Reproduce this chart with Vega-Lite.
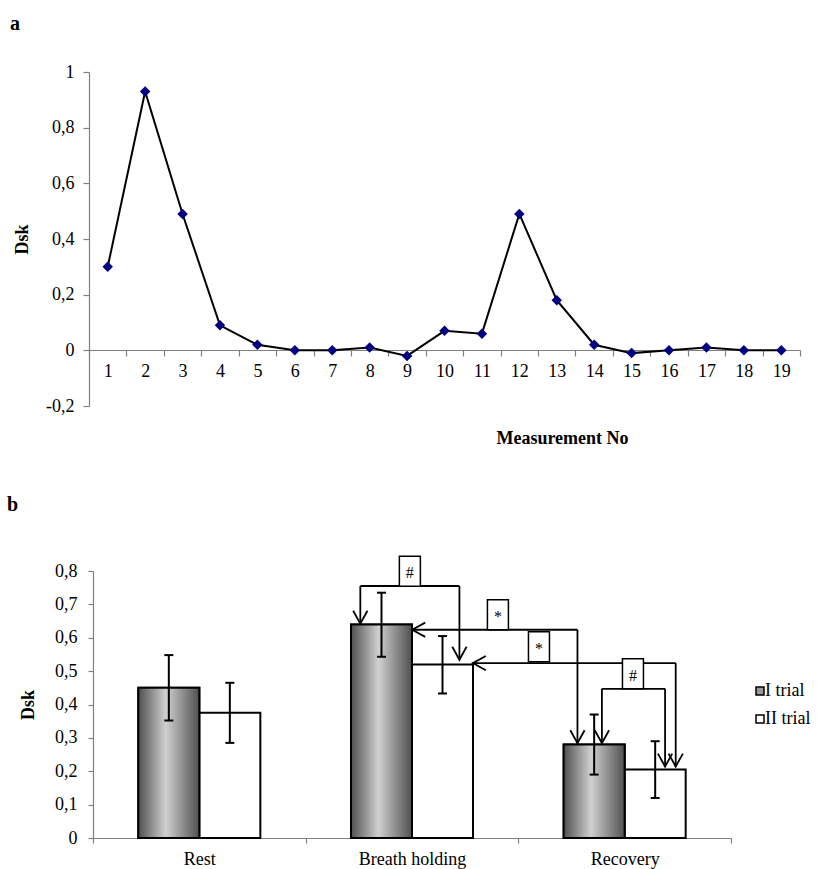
{
  "$schema": "https://vega.github.io/schema/vega-lite/v6.json",
  "padding": {"left": 7, "top": 14, "right": 5, "bottom": 5},
  "spacing": 48,
  "config": {
    "font": "Liberation Serif",
    "view": {"stroke": null},
    "axis": {
      "labelFont": "Liberation Serif", "titleFont": "Liberation Serif",
      "labelColor": "black", "titleColor": "black",
      "domainColor": "#808080", "tickColor": "#808080",
      "domainWidth": 1.2, "tickWidth": 1.2, "labelOverlap": false,
      "grid": false, "labelFontSize": 18, "titleFontSize": 18, "titleFontWeight": "bold"
    },
    "title": {"font": "Liberation Serif", "fontSize": 20, "fontWeight": "bold", "anchor": "start", "frame": "group", "color": "black", "baseline": "alphabetic"}
  },
  "vconcat": [
    {
      "title": {"text": "a", "dx": -79, "offset": 29},
      "width": 711,
      "height": 334,
      "data": {"values": [
        {"n": 1, "dsk": 0.30}, {"n": 2, "dsk": 0.93}, {"n": 3, "dsk": 0.49}, {"n": 4, "dsk": 0.09},
        {"n": 5, "dsk": 0.02}, {"n": 6, "dsk": 0.0}, {"n": 7, "dsk": 0.0}, {"n": 8, "dsk": 0.01},
        {"n": 9, "dsk": -0.02}, {"n": 10, "dsk": 0.07}, {"n": 11, "dsk": 0.06}, {"n": 12, "dsk": 0.49},
        {"n": 13, "dsk": 0.18}, {"n": 14, "dsk": 0.02}, {"n": 15, "dsk": -0.01}, {"n": 16, "dsk": 0.0},
        {"n": 17, "dsk": 0.01}, {"n": 18, "dsk": 0.0}, {"n": 19, "dsk": 0.0}
      ]},
      "encoding": {
        "x": {
          "field": "n", "type": "ordinal",
          "scale": {"type": "band", "paddingInner": 0, "paddingOuter": 0},
          "axis": {"labelAngle": 0, "offset": -56, "tickSize": 6, "tickBand": "extent", "labelPadding": 6,
                   "title": "Measurement No", "titleX": 473, "titleY": 88, "titleBaseline": "middle"}
        },
        "y": {
          "field": "dsk", "type": "quantitative",
          "scale": {"domain": [-0.2, 1], "nice": false, "zero": false},
          "axis": {"values": [-0.2, 0, 0.2, 0.4, 0.6, 0.8, 1],
                   "labelExpr": "replace(replace(format(datum.value, '.1~f'), '.', ','), '\u2212', '-')",
                   "tickSize": 6, "labelPadding": 9, "title": "Dsk", "titlePadding": 14}
        }
      },
      "layer": [
        {"mark": {"type": "line", "color": "black", "strokeWidth": 2}},
        {"mark": {"type": "point", "shape": "diamond", "filled": true, "color": "#000080", "size": 110, "opacity": 1}}
      ]
    },
    {
      "title": {"text": "b", "dx": -82, "offset": 38},
      "width": 642,
      "height": 267,
      "resolve": {"scale": {"x": "independent"}},
      "layer": [
        {
          "data": {"values": [
            {"phase": "Rest", "trial": "I trial", "value": 0.45, "lo": 0.352, "hi": 0.548},
            {"phase": "Rest", "trial": "II trial", "value": 0.375, "lo": 0.285, "hi": 0.465},
            {"phase": "Breath holding", "trial": "I trial", "value": 0.64, "lo": 0.543, "hi": 0.735},
            {"phase": "Breath holding", "trial": "II trial", "value": 0.52, "lo": 0.433, "hi": 0.605},
            {"phase": "Recovery", "trial": "I trial", "value": 0.28, "lo": 0.19, "hi": 0.37},
            {"phase": "Recovery", "trial": "II trial", "value": 0.205, "lo": 0.12, "hi": 0.29}
          ]},
          "encoding": {
            "x": {
              "field": "phase", "type": "nominal",
              "scale": {"domain": ["Rest", "Breath holding", "Recovery"], "paddingInner": 0, "paddingOuter": 0, "range": [4, 642]},
              "axis": {"labelAngle": 0, "tickSize": 5, "tickBand": "extent", "labelPadding": 7, "title": null}
            },
            "xOffset": {"field": "trial", "type": "nominal", "scale": {"domain": ["I trial", "II trial"], "paddingInner": 0, "paddingOuter": 0.743}}
          },
          "layer": [
            {
              "mark": {"type": "bar", "stroke": "black", "strokeWidth": 2},
              "encoding": {
                "y": {"field": "value", "type": "quantitative",
                      "scale": {"domain": [0, 0.8], "nice": false},
                      "axis": {"values": [0, 0.1, 0.2, 0.3, 0.4, 0.5, 0.6, 0.7, 0.8], "labelOverlap": false, "labelExpr": "replace(format(datum.value, '.1~f'), '.', ',')", "tickSize": 5, "labelPadding": 11, "offset": -4, "title": "Dsk", "titlePadding": 17}},
                "fill": {"field": "trial", "type": "nominal",
                         "scale": {"domain": ["I trial", "II trial"], "range": ["#9a9a9a", "#ffffff"]},
                         "legend": {"orient": "none", "legendX": 662, "legendY": 610, "title": null,
                                    "symbolType": "square", "symbolSize": 64, "symbolStrokeColor": "black", "symbolStrokeWidth": 1.5,
                                    "labelFontSize": 18, "labelFont": "Liberation Serif", "labelColor": "black",
                                    "rowPadding": 10, "labelOffset": -4, "padding": 0}}
              }
            },
            {
              "transform": [{"filter": "datum.trial == 'I trial'"}],
              "mark": {"type": "bar", "stroke": "black", "strokeWidth": 2,
                       "fill": {"gradient": "linear", "x1": 0, "y1": 0, "x2": 1, "y2": 0,
                                "stops": [{"offset": 0, "color": "#4f4f4f"}, {"offset": 0.45, "color": "#d0d0d0"}, {"offset": 1, "color": "#4f4f4f"}]}},
              "encoding": {
                "y": {"field": "value", "type": "quantitative", "scale": {"domain": [0, 0.8], "nice": false},
                      "axis": {"values": [0, 0.1, 0.2, 0.3, 0.4, 0.5, 0.6, 0.7, 0.8], "labelOverlap": false, "labelExpr": "replace(format(datum.value, '.1~f'), '.', ',')", "tickSize": 5, "labelPadding": 11, "offset": -4, "title": "Dsk", "titlePadding": 17}}
              }
            },
            {
              "mark": {"type": "rule", "color": "black", "strokeWidth": 2},
              "encoding": {
                "y": {"field": "lo", "type": "quantitative", "scale": {"domain": [0, 0.8], "nice": false},
                      "axis": {"values": [0, 0.1, 0.2, 0.3, 0.4, 0.5, 0.6, 0.7, 0.8], "labelOverlap": false, "labelExpr": "replace(format(datum.value, '.1~f'), '.', ',')", "tickSize": 5, "labelPadding": 11, "offset": -4, "title": "Dsk", "titlePadding": 17}},
                "y2": {"field": "hi"}
              }
            },
            {
              "mark": {"type": "tick", "color": "black", "thickness": 2, "size": 9, "opacity": 1},
              "encoding": {
                "y": {"field": "lo", "type": "quantitative", "scale": {"domain": [0, 0.8], "nice": false},
                      "axis": {"values": [0, 0.1, 0.2, 0.3, 0.4, 0.5, 0.6, 0.7, 0.8], "labelOverlap": false, "labelExpr": "replace(format(datum.value, '.1~f'), '.', ',')", "tickSize": 5, "labelPadding": 11, "offset": -4, "title": "Dsk", "titlePadding": 17}}
              }
            },
            {
              "mark": {"type": "tick", "color": "black", "thickness": 2, "size": 9, "opacity": 1},
              "encoding": {
                "y": {"field": "hi", "type": "quantitative", "scale": {"domain": [0, 0.8], "nice": false},
                      "axis": {"values": [0, 0.1, 0.2, 0.3, 0.4, 0.5, 0.6, 0.7, 0.8], "labelOverlap": false, "labelExpr": "replace(format(datum.value, '.1~f'), '.', ',')", "tickSize": 5, "labelPadding": 11, "offset": -4, "title": "Dsk", "titlePadding": 17}}
              }
            }
          ]
        },
        {
          "layer": [
            {
              "data": {"values": [
                {"x": 1.257, "x2": 1.723, "y": 0.755, "y2": 0.755},
                {"x": 1.257, "x2": 1.257, "y": 0.755, "y2": 0.642},
                {"x": 1.723, "x2": 1.723, "y": 0.755, "y2": 0.534},
                {"x": 1.501, "x2": 2.278, "y": 0.624, "y2": 0.624},
                {"x": 2.278, "x2": 2.278, "y": 0.624, "y2": 0.284},
                {"x": 1.786, "x2": 2.74, "y": 0.524, "y2": 0.524},
                {"x": 2.74, "x2": 2.74, "y": 0.524, "y2": 0.214},
                {"x": 2.393, "x2": 2.69, "y": 0.447, "y2": 0.447},
                {"x": 2.393, "x2": 2.393, "y": 0.447, "y2": 0.284},
                {"x": 2.69, "x2": 2.69, "y": 0.447, "y2": 0.214}
              ]},
              "mark": {"type": "rule", "color": "black", "strokeWidth": 1.8},
              "encoding": {
                "x": {"field": "x", "type": "quantitative", "scale": {"domain": [0, 3], "range": [4, 642]}, "axis": null},
                "x2": {"field": "x2"},
                "y": {"field": "y", "type": "quantitative", "scale": {"domain": [0, 0.8], "nice": false},
                      "axis": {"values": [0, 0.1, 0.2, 0.3, 0.4, 0.5, 0.6, 0.7, 0.8], "labelOverlap": false, "labelExpr": "replace(format(datum.value, '.1~f'), '.', ',')", "tickSize": 5, "labelPadding": 11, "offset": -4, "title": "Dsk", "titlePadding": 17}},
                "y2": {"field": "y2"}
              }
            },
            {
              "data": {"values": [
                {"x": 1.257, "y": 0.642, "dir": "down"},
                {"x": 1.723, "y": 0.534, "dir": "down"},
                {"x": 2.278, "y": 0.284, "dir": "down"},
                {"x": 2.74, "y": 0.214, "dir": "down"},
                {"x": 2.393, "y": 0.284, "dir": "down"},
                {"x": 2.69, "y": 0.214, "dir": "down"},
                {"x": 1.501, "y": 0.624, "dir": "left"},
                {"x": 1.786, "y": 0.524, "dir": "left"}
              ]},
              "layer": [
                {
                  "transform": [{"filter": "datum.dir == 'down'"}],
                  "mark": {"type": "point", "shape": "M-0.55,-1L0,0L0.55,-1", "filled": false, "color": "black", "strokeWidth": 1.8, "size": 676, "opacity": 1},
                  "encoding": {
                    "x": {"field": "x", "type": "quantitative", "scale": {"domain": [0, 3], "range": [4, 642]}, "axis": null},
                    "y": {"field": "y", "type": "quantitative", "scale": {"domain": [0, 0.8], "nice": false},
                          "axis": {"values": [0, 0.1, 0.2, 0.3, 0.4, 0.5, 0.6, 0.7, 0.8], "labelOverlap": false, "labelExpr": "replace(format(datum.value, '.1~f'), '.', ',')", "tickSize": 5, "labelPadding": 11, "offset": -4, "title": "Dsk", "titlePadding": 17}}
                  }
                },
                {
                  "transform": [{"filter": "datum.dir == 'left'"}],
                  "mark": {"type": "point", "shape": "M-0.55,-1L0,0L0.55,-1", "angle": 90, "filled": false, "color": "black", "strokeWidth": 1.8, "size": 676, "opacity": 1},
                  "encoding": {
                    "x": {"field": "x", "type": "quantitative", "scale": {"domain": [0, 3], "range": [4, 642]}, "axis": null},
                    "y": {"field": "y", "type": "quantitative", "scale": {"domain": [0, 0.8], "nice": false},
                          "axis": {"values": [0, 0.1, 0.2, 0.3, 0.4, 0.5, 0.6, 0.7, 0.8], "labelOverlap": false, "labelExpr": "replace(format(datum.value, '.1~f'), '.', ',')", "tickSize": 5, "labelPadding": 11, "offset": -4, "title": "Dsk", "titlePadding": 17}}
                  }
                }
              ]
            },
            {
              "data": {"values": [
                {"x": 1.49, "y": 0.7995, "label": "#"},
                {"x": 1.904, "y": 0.669, "label": "*"},
                {"x": 2.097, "y": 0.573, "label": "*"},
                {"x": 2.539, "y": 0.492, "label": "#"}
              ]},
              "encoding": {
                "x": {"field": "x", "type": "quantitative", "scale": {"domain": [0, 3], "range": [4, 642]}, "axis": null},
                "y": {"field": "y", "type": "quantitative", "scale": {"domain": [0, 0.8], "nice": false},
                      "axis": {"values": [0, 0.1, 0.2, 0.3, 0.4, 0.5, 0.6, 0.7, 0.8], "labelOverlap": false, "labelExpr": "replace(format(datum.value, '.1~f'), '.', ',')", "tickSize": 5, "labelPadding": 11, "offset": -4, "title": "Dsk", "titlePadding": 17}}
              },
              "layer": [
                {"mark": {"type": "point", "shape": "M-0.7,-1H0.7V1H-0.7Z", "filled": true, "fill": "white", "stroke": "black", "strokeWidth": 1.5, "size": 900, "opacity": 1}},
                {"mark": {"type": "text", "fontSize": 16, "color": "black", "fill": "black", "baseline": "middle", "dy": 2}, "encoding": {"text": {"field": "label"}}}
              ]
            }
          ]
        }
      ]
    }
  ]
}
